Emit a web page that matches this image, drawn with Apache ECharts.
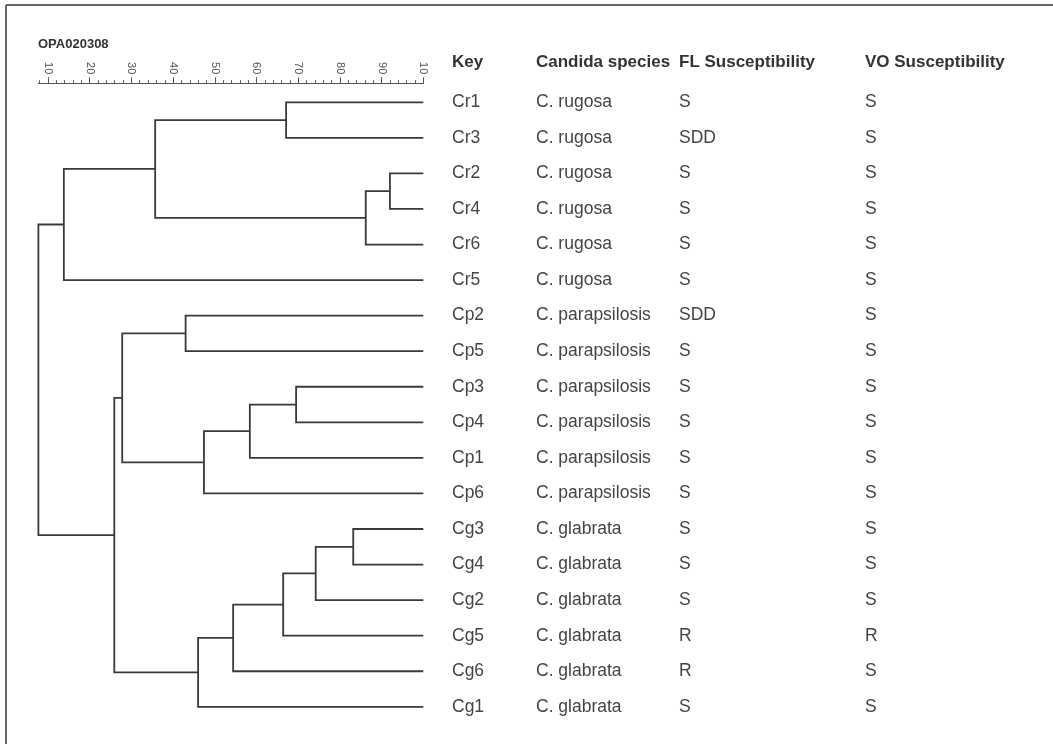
<!DOCTYPE html>
<html>
<head>
<meta charset="utf-8">
<style>
  html, body { margin: 0; padding: 0; background: #fff; }
  #chart { width: 1053px; height: 744px; }
</style>
<script src="https://cdn.jsdelivr.net/npm/echarts@6/dist/echarts.min.js"></script>
</head>
<body>
<div id="chart"></div>
<script>
// leaves, top to bottom
var leaves = ['Cr1', 'Cr3', 'Cr2', 'Cr4', 'Cr6', 'Cr5', 'Cp2', 'Cp5', 'Cp3', 'Cp4', 'Cp1', 'Cp6', 'Cg3', 'Cg4', 'Cg2', 'Cg5', 'Cg6', 'Cg1'];
var species = ['C. rugosa', 'C. rugosa', 'C. rugosa', 'C. rugosa', 'C. rugosa', 'C. rugosa',
  'C. parapsilosis', 'C. parapsilosis', 'C. parapsilosis', 'C. parapsilosis', 'C. parapsilosis', 'C. parapsilosis',
  'C. glabrata', 'C. glabrata', 'C. glabrata', 'C. glabrata', 'C. glabrata', 'C. glabrata'];
var flSusceptibility = ['S', 'SDD', 'S', 'S', 'S', 'S', 'SDD', 'S', 'S', 'S', 'S', 'S', 'S', 'S', 'S', 'R', 'R', 'S'];
var voSusceptibility = ['S', 'S', 'S', 'S', 'S', 'S', 'S', 'S', 'S', 'S', 'S', 'S', 'S', 'S', 'S', 'R', 'S', 'S'];

// merges: [left, right, similarity %]; index < 18 = leaf, otherwise 18 + merge index
var merges = [
  [0, 1, 67.1],
  [2, 3, 92.0],
  [19, 4, 86.2],
  [18, 20, 35.7],
  [21, 5, 13.8],
  [6, 7, 43.0],
  [8, 9, 69.5],
  [24, 10, 58.4],
  [25, 11, 47.4],
  [23, 26, 27.8],
  [12, 13, 83.2],
  [28, 14, 74.2],
  [29, 15, 66.4],
  [30, 16, 54.4],
  [31, 17, 46.0],
  [27, 32, 25.9],
  [22, 33, 7.7]
];

var tickValues = [10, 20, 30, 40, 50, 60, 70, 80, 90, 100];
var tickLabels = ['10', '20', '30', '40', '50', '60', '70', '80', '90', '10'];
var minorTicks = [8, 10, 12, 14, 16, 18, 20, 22, 24, 26, 28, 30, 32, 34, 36, 38, 40, 42, 44, 46, 48, 50,
  52, 54, 56, 58, 60, 62, 64, 66, 68, 70, 72, 74, 76, 78, 80, 82, 84, 86, 88, 90, 92, 94, 96, 98, 100];

var headers = ['Key', 'Candida species', 'FL Susceptibility', 'VO Susceptibility'];
var colX = [452, 536, 679, 865];

// node positions (x = similarity, y = row)
var nodeX = leaves.map(function () { return 100; });
var nodeY = leaves.map(function (d, i) { return i; });
var links = merges.map(function (m) {
  var a = m[0], b = m[1];
  var y = (nodeY[a] + nodeY[b]) / 2;
  nodeX.push(m[2]);
  nodeY.push(y);
  return [nodeX[a], nodeY[a], m[2], nodeY[b], nodeX[b]];
});

var rows = leaves.map(function (d, i) { return [i]; });

var chart = echarts.init(document.getElementById('chart'));
var font = 'Liberation Sans, Arial, sans-serif';

chart.setOption({
  animation: false,
  grid: { left: 38.4, right: 629.7, top: 83.3, bottom: 37.2 },
  xAxis: [{
    type: 'value',
    position: 'top',
    min: 7.7,
    max: 100,
    axisLine: { onZero: false, lineStyle: { color: '#555', width: 1 } },
    axisTick: { customValues: minorTicks, length: 3, lineStyle: { color: '#555' } },
    axisLabel: { show: false },
    splitLine: { show: false }
  }, {
    type: 'value',
    position: 'top',
    min: 7.7,
    max: 100,
    axisLine: { show: false, onZero: false },
    axisTick: { customValues: tickValues, length: 6, lineStyle: { color: '#555' } },
    axisLabel: {
      customValues: tickValues,
      rotate: 90,
      margin: 9,
      fontSize: 11,
      fontFamily: font,
      color: '#555',
      formatter: function (v) { return tickLabels[tickValues.indexOf(v)]; }
    },
    splitLine: { show: false }
  }],
  yAxis: { type: 'value', min: -0.534, max: 17, inverse: true, show: false },
  graphic: [
    { type: 'line', shape: { x1: 6, y1: 5, x2: 1053, y2: 5 }, style: { stroke: '#666', lineWidth: 2 } },
    { type: 'line', shape: { x1: 6, y1: 5, x2: 6, y2: 744 }, style: { stroke: '#666', lineWidth: 2 } },
    { type: 'text', left: 38, top: 38, style: { text: 'OPA020308', font: 'bold 13px ' + font, fill: '#333' } }
  ].concat(headers.map(function (h, i) {
    return {
      type: 'text', x: colX[i], y: 62,
      style: { text: h, font: 'bold 17px ' + font, fill: '#333', verticalAlign: 'middle' }
    };
  })),
  series: [{
    type: 'custom',
    clip: false,
    data: links,
    renderItem: function (params, api) {
      var p1 = api.coord([api.value(0), api.value(1)]);
      var p2 = api.coord([api.value(2), api.value(1)]);
      var p3 = api.coord([api.value(2), api.value(3)]);
      var p4 = api.coord([api.value(4), api.value(3)]);
      return {
        type: 'polyline',
        shape: { points: [p1, p2, p3, p4] },
        style: { stroke: '#3a3a3a', lineWidth: 1.8, fill: null }
      };
    }
  }, {
    type: 'custom',
    clip: false,
    data: rows,
    renderItem: function (params, api) {
      var i = api.value(0);
      var y = api.coord([100, i])[1];
      var texts = [leaves[i], species[i], flSusceptibility[i], voSusceptibility[i]];
      return {
        type: 'group',
        children: texts.map(function (t, k) {
          return {
            type: 'text',
            x: colX[k], y: y,
            style: { text: t, font: '17.5px ' + font, fill: '#444', verticalAlign: 'middle' }
          };
        })
      };
    }
  }]
});
</script>
</body>
</html>
